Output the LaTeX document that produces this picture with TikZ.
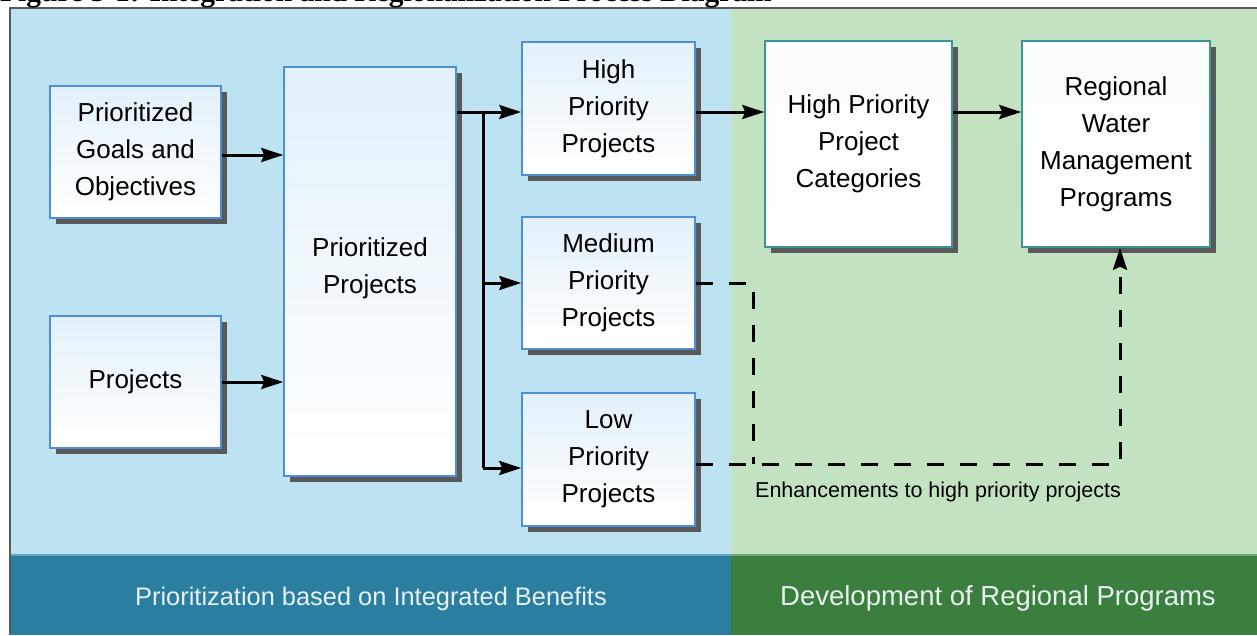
\documentclass[tikz,border=0pt]{standalone}
\usepackage{fontspec}
\setmainfont{Liberation Sans}
\newfontfamily\titlefont{Liberation Serif}
\usetikzlibrary{
    shadows,
    arrows.meta
}
\definecolor{leftbg}{RGB}{189,226,242}
\definecolor{rightbg}{RGB}{195,226,193}
\definecolor{leftband}{RGB}{42,127,160}
\definecolor{rightband}{RGB}{58,127,61}
\definecolor{blueedge}{RGB}{77,143,214}
\definecolor{tealedge}{RGB}{58,150,150}
\definecolor{boxtop}{RGB}{226,241,250}
\definecolor{bandtext}{RGB}{232,240,242}
\tikzset {
    stepbox/.style = {
        draw = blueedge, line width = 1.5pt,
        top color = boxtop, bottom color = white,
        drop shadow = {shadow xshift = 6pt, shadow yshift = -6pt,
            fill = black!65, opacity = 1},
        align = center, inner sep = 0pt,
        font = \fontsize{26}{37}\selectfont
    },
    greenbox/.style = {stepbox, draw = tealedge, top color = white!92!rightbg},
    tip/.style = {-{Stealth[length = 22pt, width = 14pt, inset = 3pt]}},
    conn/.style = {line width = 3pt, tip},
    plainconn/.style = {line width = 3pt},
    dashline/.style = {line width = 3pt, dash pattern = on 17pt off 16pt},
    bandlabel/.style = {text = bandtext, inner sep = 0pt},
}
\begin{document}
\begin{tikzpicture}[x = 1pt, y = -1pt]
    \useasboundingbox (0, 0) rectangle (1257, 635);
    % backgrounds
    \fill [white] (0, 0) rectangle (1257, 635);
    \fill [leftbg] (10, 8) rectangle (731, 555);
    \fill [rightbg] (731, 8) rectangle (1257, 555);
    \fill [leftband] (10, 555) rectangle (731, 635);
    \fill [rightband] (731, 555) rectangle (1257, 635);
    \draw [leftbg!40!leftband, line width = 1.5pt] (10, 555) -- (731, 555);
    \draw [rightbg!40!rightband, line width = 1.5pt] (731, 555) -- (1257, 555);
    \draw [black!65, line width = 2pt] (10, 635) -- (10, 8) -- (1257, 8);
    \node (title) [anchor = base west, inner sep = 0pt,
        font = \titlefont\bfseries\fontsize{29.5}{34}\selectfont]
        at (0, 1.5) {Figure 5-1: Integration and Regionalization Process Diagram};
    % boxes
    \node (goals) [stepbox, minimum width = 171pt, minimum height = 132pt]
        at (135.5, 152) {Prioritized\\Goals and\\Objectives};
    \node (proj) [stepbox, minimum width = 171pt, minimum height = 132pt]
        at (135.5, 382) {Projects};
    \node (pp) [stepbox, minimum width = 172pt, minimum height = 409pt]
        at (370, 271.5) {Prioritized\\Projects\\[-25pt]};
    \node (hpp) [stepbox, minimum width = 173pt, minimum height = 133pt]
        at (608.5, 108.5) {High\\Priority\\Projects};
    \node (mpp) [stepbox, minimum width = 173pt, minimum height = 132pt]
        at (608.5, 283) {Medium\\Priority\\Projects};
    \node (lpp) [stepbox, minimum width = 173pt, minimum height = 133pt]
        at (608.5, 459.5) {Low\\Priority\\Projects};
    \node (hpc) [greenbox, minimum width = 187pt, minimum height = 206pt]
        at (858.5, 144) {High Priority\\Project\\Categories};
    \node (rwmp) [greenbox, minimum width = 188pt, minimum height = 206pt]
        at (1116, 144) {Regional\\Water\\Management\\Programs};
    % connectors
    \coordinate (split) at (483, 112);
    \coordinate (mturn) at (753, 283);
    \coordinate (lturn) at (1120, 464);
    \draw [conn] (goals.east |- 0, 155) -- (pp.west |- 0, 155);
    \draw [conn] (proj) -- (pp.west |- proj);
    \draw [conn] (pp.east |- split) -- (hpp.west |- split);
    \draw [plainconn] (split) -- (split |- 0, 468);
    \draw [conn] (split |- mpp) -- (mpp.west);
    \draw [conn] (split |- 0, 468) -- (lpp.west |- 0, 468);
    \draw [conn] (hpp.east |- split) -- (hpc.west |- split);
    \draw [conn] (hpc.east |- split) -- (rwmp.west |- split);
    \draw [dashline] (mpp.east) -- (mturn) -- (mturn |- lturn);
    \draw [dashline, tip]
        (lpp.east |- lturn) -- (lturn) -- (lturn |- rwmp.south);
    \node (enh) [inner sep = 0pt, font = \fontsize{21.5}{26}\selectfont]
        at (938, 492) {Enhancements to high priority projects};
    % bands
    \node (leftlabel) [bandlabel, font = \fontsize{25.4}{30}\selectfont]
        at (371, 599) {Prioritization based on Integrated Benefits};
    \node (rightlabel) [bandlabel, font = \fontsize{27.5}{32}\selectfont]
        at (998, 598) {Development of Regional Programs};
\end{tikzpicture}
\end{document}
